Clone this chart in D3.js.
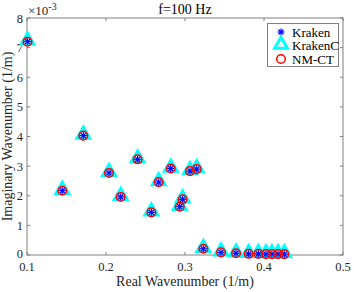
<!DOCTYPE html>
<html><head><meta charset="utf-8">
<script src="https://cdn.jsdelivr.net/npm/d3@7"></script>
<style>body{margin:0;background:#fff}svg{display:block}text{font-family:"Liberation Serif","Times New Roman",serif}</style>
</head><body>
<script>
const realK = [0.1006,0.1713,0.1447,0.2038,0.2186,0.2400,0.2574,0.2667,0.2820,0.2970,0.2933,0.3063,0.3148,0.3232,0.3456,0.3646,0.3806,0.3928,0.4025,0.4100,0.4177,0.4257];
const imagK = [7.20,4.03,2.17,2.77,1.96,3.23,1.44,2.46,2.92,1.88,1.63,2.83,2.90,0.21,0.09,0.06,0.04,0.04,0.03,0.03,0.03,0.03];
const xTicks = [0.1,0.2,0.3,0.4,0.5];
const yTicks = [0,1,2,3,4,5,6,7,8];
const seriesNames = ["Kraken","KrakenC","NM-CT"];

const W=354,H=292;
const svg=d3.select("body").append("svg").attr("width",W).attr("height",H);
const L=27,R=343,T=18,B=255;
const x=d3.scaleLinear().domain([0.1,0.5]).range([L,R]);
const y=d3.scaleLinear().domain([0,8]).range([B,T]);
const axisCol="#808080", textCol="#262626";

svg.append("rect").attr("x",L).attr("y",T).attr("width",R-L).attr("height",B-T).attr("fill","#fff").attr("stroke",axisCol).attr("stroke-width",1);

const tl=3;
const g=svg.append("g");
xTicks.forEach(v=>{
  g.append("line").attr("x1",x(v)).attr("x2",x(v)).attr("y1",B).attr("y2",B-tl).attr("stroke",axisCol);
  g.append("line").attr("x1",x(v)).attr("x2",x(v)).attr("y1",T).attr("y2",T+tl).attr("stroke",axisCol);
  g.append("text").attr("x",x(v)).attr("y",B+16).attr("text-anchor","middle").attr("font-size",12.5).attr("fill",textCol).text(d3.format(".1f")(v));
});
yTicks.forEach(v=>{
  g.append("line").attr("x1",L).attr("x2",L+tl).attr("y1",y(v)).attr("y2",y(v)).attr("stroke",axisCol);
  g.append("line").attr("x1",R).attr("x2",R-tl).attr("y1",y(v)).attr("y2",y(v)).attr("stroke",axisCol);
  g.append("text").attr("x",L-4).attr("y",y(v)+(v===0?2.5:4.5)).attr("text-anchor","end").attr("font-size",12.5).attr("fill",textCol).text(v);
});

// exponent
const ex=svg.append("text").attr("x",28).attr("y",15).attr("font-size",13).attr("fill",textCol);
ex.append("tspan").text("×10");
ex.append("tspan").attr("dy",-5).attr("font-size",10).text("-3");

svg.append("text").attr("x",185).attr("y",14).attr("text-anchor","middle").attr("font-size",14).attr("fill","#000").text("f=100 Hz");
svg.append("text").attr("x",(L+R)/2).attr("y",286).attr("text-anchor","middle").attr("font-size",14).attr("fill",textCol).text("Real Wavenumber (1/m)");
svg.append("text").attr("transform",`translate(12,${(T+B)/2}) rotate(-90)`).attr("text-anchor","middle").attr("font-size",14).attr("fill",textCol).text("Imaginary Wavenumber (1/m)");

const data=realK.map((r,i)=>({r,im:imagK[i]}));
const tri=d3.symbol().type(d3.symbolTriangle).size(70);
function star(gg,cx,cy,s){
  const p=gg.append("g").attr("transform",`translate(${cx},${cy})`);
  [0,45,90,135].forEach(a=>{
    const rad=a*Math.PI/180;
    p.append("line").attr("x1",-s*Math.cos(rad)).attr("y1",-s*Math.sin(rad)).attr("x2",s*Math.cos(rad)).attr("y2",s*Math.sin(rad)).attr("stroke","#0000ff").attr("stroke-width",1.2);
  });
}
function triM(gg,cx,cy){
  gg.append("path").attr("d",tri()).attr("transform",`translate(${cx},${cy-1})`).attr("fill","none").attr("stroke","#00ffff").attr("stroke-width",3);
}
function circ(gg,cx,cy){
  gg.append("circle").attr("cx",cx).attr("cy",cy).attr("r",4.3).attr("fill","none").attr("stroke","#ff0000").attr("stroke-width",1.5);
}
const m=svg.append("g");
data.forEach(d=>triM(m,x(d.r),y(d.im)));
data.forEach(d=>star(m,x(d.r),y(d.im),3.5));
data.forEach(d=>circ(m,x(d.r),y(d.im)));

// legend
const lg=svg.append("g");
lg.append("rect").attr("x",267.5).attr("y",23.5).attr("width",71).attr("height",43).attr("fill","#fff").attr("stroke",axisCol);
const ly=[32,45.5,59];
star(lg,281,ly[0],3.5);
triM(lg,281,ly[1]);
circ(lg,281,ly[2]);
seriesNames.forEach((n,i)=>lg.append("text").attr("x",292).attr("y",ly[i]+4.5).attr("font-size",13).attr("fill","#000").text(n));
</script>
</body></html>
